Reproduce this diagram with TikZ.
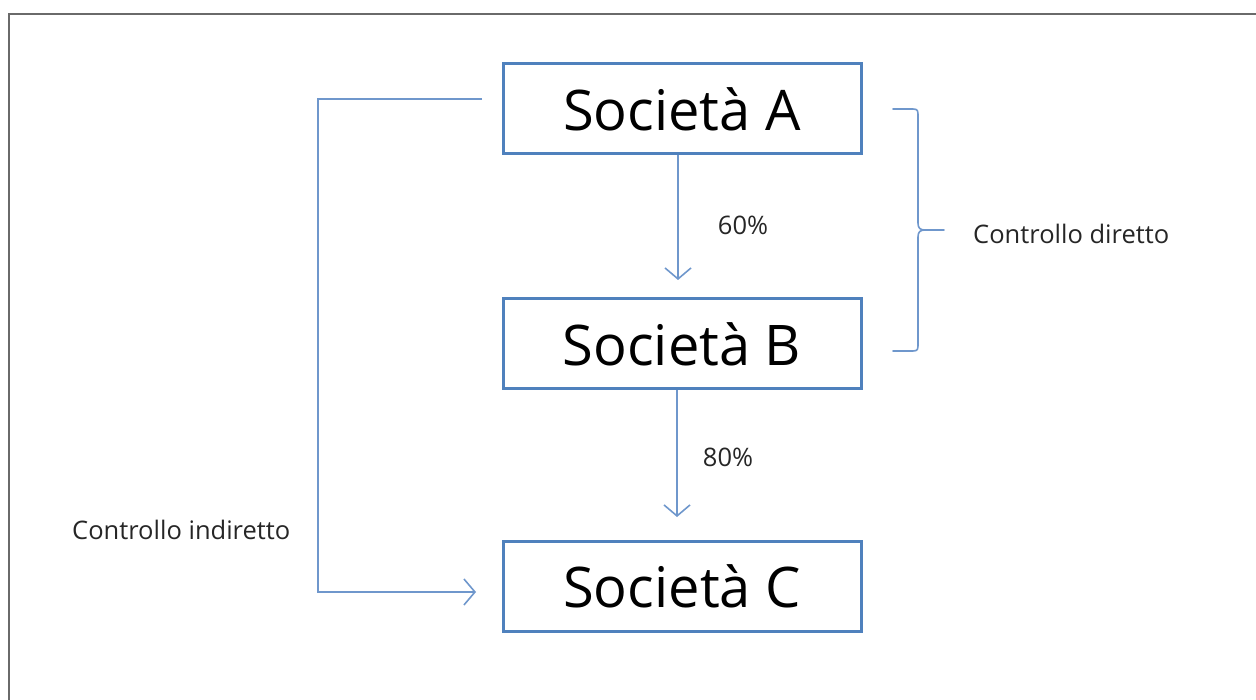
\documentclass[tikz,border=0pt]{standalone}
\usepackage{fontspec}
\setmainfont{Open Sans}
\usetikzlibrary{arrows.meta}
\definecolor{boxblue}{HTML}{4F81BD}
\definecolor{linkblue}{HTML}{6F97CC}
\definecolor{framegray}{HTML}{6A6A6A}
\begin{document}
\begin{tikzpicture}[x=1pt,y=-1pt,
  company/.style={draw=boxblue,line width=3pt,minimum width=358pt,minimum height=90pt,
    inner sep=0pt,font=\fontsize{56}{62}\selectfont,text=black},
  link/.style={draw=linkblue,line width=1.6pt},
  tip/.style={-{Straight Barb[length=11pt,width=26pt,line width=1.6pt]}},
  note/.style={font=\fontsize{25.5}{30}\selectfont,text=black!85,inner sep=0pt}]
  \useasboundingbox (0,0) rectangle (1256,700);
  % outer frame, open to the right and bottom
  \draw[framegray,line width=2.5pt] (9,720) -- (9,14) -- (1270,14);

  % companies
  \node[company] (A) at (682,109) {Società A};
  \node[company] (B) at (682,344) {Società B};
  \node[company] (C) at (682,586) {Società C};

  % direct shareholdings
  \coordinate (ab) at (678,280);
  \coordinate (bc) at (677,517);
  \draw[link,tip] (A.south -| ab) -- (ab);
  \draw[link,tip] (B.south -| bc) -- (bc);
  \node[note] (p1) at (743,225) {60\%};
  \node[note] (p2) at (728,457) {80\%};

  % brace for direct control
  \coordinate (bt) at (893,109);
  \coordinate (bb) at (893,351);
  \coordinate (bm) at (944,230);
  \draw[link,line cap=round]
    (bt) -- (913,109) .. controls (918,109) and (918,111) .. (918,116)
    -- (918,223) .. controls (918,228) and (920,230) .. (925,230) -- (bm)
    (925,230) .. controls (920,230) and (918,232) .. (918,237)
    -- (918,344) .. controls (918,349) and (918,351) .. (913,351) -- (bb);
  \node[note,anchor=west] (direct) at (973,234) {Controllo diretto};

  % indirect control path
  \coordinate (ia) at (482,99);
  \coordinate (ic) at (476,592);
  \draw[link,tip] (ia) -- (318,99) -- (318,592) -- (ic);
  \node[note,anchor=west] (indirect) at (72,530) {Controllo indiretto};
\end{tikzpicture}
\end{document}
